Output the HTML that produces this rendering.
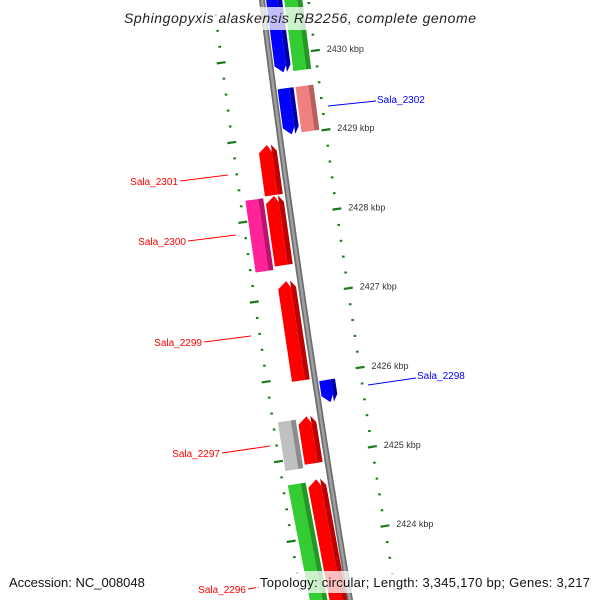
<!DOCTYPE html>
<html><head><meta charset="utf-8"><style>
html,body{margin:0;padding:0;background:#fff;width:600px;height:600px;overflow:hidden}
svg{display:block;font-family:"Liberation Sans","DejaVu Sans",sans-serif;overflow:hidden}
</style></head><body>
<svg id="map" width="600" height="600" viewBox="0 0 600 600">
<g id="bb"></g>
<g id="ticks"></g>
<g id="feats"></g>
<g id="labels">
<line x1="328" y1="106" x2="376" y2="101" stroke="#00f" stroke-width="1"/>
<text x="377" y="103" fill="#00f" font-size="10">Sala_2302</text>
<line x1="180" y1="181" x2="228" y2="175" stroke="#f00" stroke-width="1"/>
<text x="178" y="185" fill="#f00" font-size="10" text-anchor="end">Sala_2301</text>
<line x1="188" y1="241" x2="236" y2="235" stroke="#f00" stroke-width="1"/>
<text x="186" y="245" fill="#f00" font-size="10" text-anchor="end">Sala_2300</text>
<line x1="204" y1="342" x2="251" y2="336" stroke="#f00" stroke-width="1"/>
<text x="202" y="346" fill="#f00" font-size="10" text-anchor="end">Sala_2299</text>
<line x1="368" y1="385" x2="416" y2="378" stroke="#00f" stroke-width="1"/>
<text x="417" y="379" fill="#00f" font-size="10">Sala_2298</text>
<line x1="222" y1="453" x2="270" y2="446" stroke="#f00" stroke-width="1"/>
<text x="220" y="457" fill="#f00" font-size="10" text-anchor="end">Sala_2297</text>
<line x1="248" y1="589" x2="260" y2="587" stroke="#f00" stroke-width="1"/>
<text x="246" y="593" fill="#f00" font-size="10" text-anchor="end">Sala_2296</text>
</g>
<rect x="118" y="7" width="364" height="23" fill="#fff" fill-opacity="0.75"/>
<text x="300" y="23" text-anchor="middle" font-size="14" font-style="italic" fill="#222" textLength="352">Sphingopyxis alaskensis RB2256, complete genome</text>
<rect x="256" y="571" width="338" height="22" fill="#fff" fill-opacity="0.75"/>
<text x="9" y="587" font-size="13" fill="#111">Accession: NC_008048</text>
<text x="260" y="587" font-size="13" fill="#111" textLength="330">Topology: circular; Length: 3,345,170 bp; Genes: 3,217</text>
</svg>
<script>
const majorTicks = [2423, 2424, 2425, 2426, 2427, 2428, 2429, 2430, 2431];
const tickLabels = ["2423 kbp","2424 kbp","2425 kbp","2426 kbp","2427 kbp","2428 kbp","2429 kbp","2430 kbp","2431 kbp"];
const featStart = [2430.81, 2430.81, 2429.58, 2429.58, 2425.91, 2428.91, 2428.26, 2428.27, 2427.20, 2425.48, 2425.50, 2424.69, 2424.71];
const featEnd   = [2429.78, 2429.78, 2429.00, 2429.01, 2425.63, 2428.28, 2427.36, 2427.40, 2425.95, 2424.87, 2424.91, 2423.00, 2423.00];
const featLane  = ["r1","r2","r1","r2","r1","l1","l2","l1","l1","l2","l1","l2","l1"];
const featArrow = ["down","none","down","none","down","up","none","up","up","none","up","none","up"];
const featColor = ["blue","green","blue","pink","blue","red","magenta","red","red","gray","red","green","red"];

const NS = "http://www.w3.org/2000/svg";
const laneD = {r1:[4,20], r2:[22,40], l1:[-23,-5], l2:[-43,-25]};
const palette = {red:["#ff0000","#c00000"], blue:["#0000ff","#0000a8"], green:["#33cc33","#229922"], pink:["#f08080","#b86060"], magenta:["#ff2299","#c0106e"], gray:["#c0c0c0","#8c8c8c"]};
function Y(kbp){ return 56.5 + (2430 - kbp) * 79.5; }
function bx(y){ return 262 + 0.1267*y + 3.33e-5*y*y; }
function slope(y){ return 0.1267 + 6.67e-5*y; }
function pt(kbp, d){
  const yb = Y(kbp), s = slope(yb), n = Math.sqrt(1+s*s);
  return [bx(yb) + d/n, yb - d*s/n];
}
function mk(tag, attrs, parent){ const e=document.createElementNS(NS,tag); for(const k in attrs) e.setAttribute(k,attrs[k]); parent.appendChild(e); return e; }

const bb = document.getElementById('bb');
let pts=[]; for(let k=2431.5;k>=2422.6;k-=0.1){ const p=pt(k,0); pts.push(p[0].toFixed(1)+","+p[1].toFixed(1)); }
const b1 = mk('polyline',{points:pts.join(' '),fill:'none',stroke:'#6e6e6e','stroke-width':6},bb);


const b2 = mk('polyline',{points:pts.join(' '),fill:'none',stroke:'#a0a0a0','stroke-width':2.5},bb);



const tg = document.getElementById('ticks');
for(let i=0;i<=45;i++){
  const k = 2422.6 + i*0.2;
  if (Math.abs(k-Math.round(k))<0.01) continue;
  [46,-48].forEach(d=>{
    const p=pt(k,d);
    if (p[1] > 598) return;
    const r = mk('rect',{x:(p[0]-1.2).toFixed(1),y:(p[1]-1).toFixed(1),width:2.6,height:2,fill:'#1a7a1a'},tg);
    
    
  });
}
majorTicks.forEach((k,i)=>{
  [[42,51],[-53,-44]].forEach(([d0,d1])=>{
    const a=pt(k,d0), b=pt(k,d1);
    if (a[1] > 598 || a[1] < -5) return;
    const l = mk('line',{x1:a[0],y1:a[1],x2:b[0],y2:b[1],stroke:'#1a7a1a','stroke-width':2.2},tg);
    
    
  });
  const p=pt(k,58);
  if (p[1] > 590 || p[1] < 0) return;
  const t = mk('text',{x:p[0].toFixed(1),y:(p[1]+3).toFixed(1),'font-size':9,fill:'#333'},tg);
  t.textContent = tickLabels[i];
  
  
});

const fg = document.getElementById('feats');
const head = 7/79.5;
featStart.forEach((s,i)=>{
  const e = featEnd[i], [d0,d1] = laneD[featLane[i]], dm=(d0+d1)/2, arrow=featArrow[i];
  const cols = palette[featColor[i]];
  function poly(a0,a1){
    let top=s, bot=e, P=[];
    let topIn = (arrow==='up')? top-head : top, botIn = (arrow==='down')? bot+head : bot;
    P.push(pt(topIn,a0));
    if(arrow==='up'){ P.push(pt(top, Math.max(a0,Math.min(a1,dm)))); }
    P.push(pt(topIn,a1)); P.push(pt(botIn,a1));
    if(arrow==='down'){ P.push(pt(bot, Math.max(a0,Math.min(a1,dm)))); }
    P.push(pt(botIn,a0));
    return P.map(p=>p[0].toFixed(1)+","+Math.min(600,p[1]).toFixed(1)).join(' ');
  }
  const g = mk('g',{},fg);
  
  
  const split = d0 + (d1-d0)*0.72;
  const m = mk('polygon',{points:poly(d0,split),fill:cols[0]},g);
  
  
  const sd = mk('polygon',{points:poly(split,d1),fill:cols[1]},g);
  
  
});
</script>
</body></html>
